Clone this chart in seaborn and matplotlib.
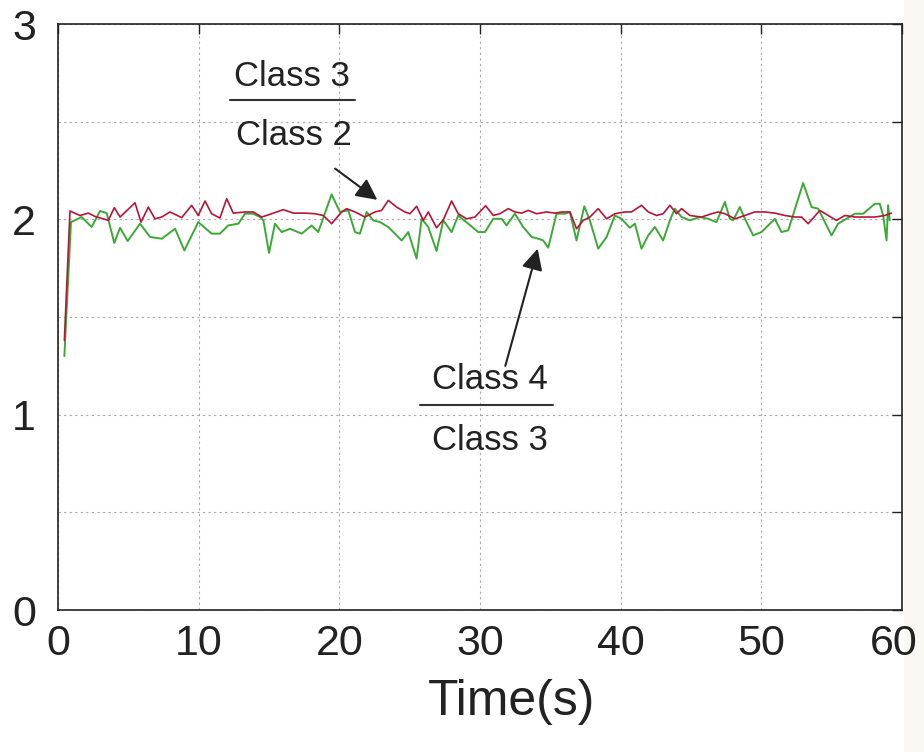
import matplotlib
matplotlib.use("Agg")
import matplotlib.pyplot as plt
import matplotlib.patches as mpatches
import matplotlib.transforms as mtransforms
import seaborn as sns
import pandas as pd

# Class 3 / Class 2 ratio over time
t_32 = [0.45, 0.85, 1.56, 2.16, 2.63, 3.58, 4.00, 4.41, 5.47, 5.90, 6.42, 6.89,
        7.37, 7.96, 8.79, 9.50, 9.97, 10.45, 10.92, 11.51, 11.99, 12.46, 13.29,
        13.88, 14.48, 15.19, 16.01, 16.73, 17.56, 18.27, 18.86, 19.45, 20.16,
        20.52, 21.11, 21.82, 22.53, 23.00, 23.48, 24.07, 24.66, 25.02, 25.49,
        25.97, 26.32, 26.91, 27.39, 27.98, 28.45, 29.05, 29.64, 30.40, 30.94,
        31.41, 32.01, 32.48, 32.95, 33.43, 34.02, 34.73, 35.32, 35.80, 36.39,
        36.86, 37.34, 37.81, 38.40, 39.00, 39.59, 40.30, 40.77, 41.48, 41.96,
        42.55, 43.02, 43.50, 43.97, 44.33, 44.92, 45.75, 46.46, 46.93, 47.41,
        48.12, 48.83, 49.54, 50.25, 50.96, 51.67, 52.38, 52.86, 53.33, 54.16,
        54.75, 55.34, 55.94, 56.65, 57.36, 58.07, 58.78, 59.25]
r_32 = [1.38, 2.043, 2.020, 2.032, 2.015, 1.995, 2.060, 2.012, 2.085, 1.986,
        2.063, 2.003, 2.012, 2.038, 2.009, 2.072, 2.020, 2.094, 2.029, 2.007,
        2.106, 2.032, 2.038, 2.038, 2.012, 2.029, 2.050, 2.032, 2.032, 2.029,
        2.020, 1.978, 2.038, 2.055, 2.038, 2.012, 2.038, 2.046, 2.097, 2.063,
        2.038, 2.029, 2.067, 1.995, 2.038, 1.957, 1.998, 2.094, 2.029, 2.003,
        2.012, 2.070, 2.020, 2.029, 2.055, 2.038, 2.032, 2.046, 2.029, 2.038,
        2.032, 2.038, 2.038, 1.952, 1.995, 2.012, 2.055, 2.003, 2.029, 2.038,
        2.038, 2.072, 2.038, 2.020, 2.029, 2.072, 2.029, 2.055, 2.020, 2.012,
        2.029, 2.038, 2.029, 2.003, 2.020, 2.038, 2.038, 2.032, 2.020, 2.012,
        2.012, 1.978, 2.046, 2.020, 1.995, 2.020, 2.012, 2.012, 2.012, 2.020,
        2.032]

# Class 4 / Class 3 ratio over time
t_43 = [0.45, 0.92, 1.68, 2.39, 2.99, 3.46, 4.00, 4.41, 4.95, 5.83, 6.54, 7.37,
        8.32, 8.98, 9.97, 10.92, 11.51, 12.10, 12.82, 13.29, 13.88, 14.36,
        14.60, 15.00, 15.42, 15.90, 16.49, 17.32, 18.03, 18.50, 19.45, 20.04,
        20.64, 21.11, 21.46, 21.94, 22.41, 22.89, 23.48, 23.95, 24.43, 24.90,
        25.49, 25.85, 26.32, 26.91, 27.39, 27.98, 28.45, 29.16, 29.87, 30.35,
        30.94, 31.53, 31.89, 32.48, 33.07, 33.67, 34.14, 34.49, 34.85, 35.44,
        36.03, 36.39, 36.86, 37.41, 37.81, 38.40, 39.00, 39.59, 40.06, 40.65,
        41.01, 41.48, 41.96, 42.43, 43.02, 43.50, 43.85, 44.33, 44.92, 45.63,
        46.22, 46.81, 47.41, 47.76, 48.00, 48.47, 48.83, 49.42, 50.01, 50.96,
        51.43, 51.91, 52.97, 53.57, 54.04, 54.40, 54.99, 55.46, 56.05, 56.65,
        57.24, 58.07, 58.42, 58.66, 58.90, 59.01, 59.13]
r_43 = [1.30, 1.986, 2.012, 1.961, 2.043, 2.032, 1.879, 1.957, 1.889, 1.978,
        1.910, 1.901, 1.952, 1.841, 1.986, 1.927, 1.927, 1.969, 1.978, 2.029,
        2.029, 2.012, 1.995, 1.828, 1.978, 1.935, 1.952, 1.927, 1.969, 1.935,
        2.128, 2.038, 2.046, 1.935, 1.927, 2.038, 1.995, 1.986, 1.961, 1.927,
        1.892, 1.935, 1.799, 2.003, 1.961, 1.838, 1.995, 1.935, 2.020, 1.978,
        1.935, 1.935, 2.003, 2.003, 1.969, 2.029, 1.961, 1.910, 1.901, 1.892,
        1.855, 2.029, 2.029, 2.038, 1.892, 2.067, 1.995, 1.850, 1.910, 2.020,
        2.003, 1.957, 1.978, 1.850, 1.918, 1.961, 1.892, 1.995, 2.055, 2.012,
        1.995, 2.012, 2.003, 1.986, 2.089, 2.003, 1.995, 2.063, 2.003, 1.918,
        1.935, 2.003, 1.935, 1.944, 2.186, 2.063, 2.055, 2.003, 1.918, 1.978,
        2.003, 2.029, 2.029, 2.080, 2.080, 2.020, 1.892, 2.072, 1.995]

x_ticks = [0, 10, 20, 30, 40, 50, 60]
y_grid = [0, 0.5, 1, 1.5, 2, 2.5, 3]
y_labels = {0: "0", 1: "1", 2: "2", 3: "3"}

sns.set_theme(style="white")
plt.rcParams["font.family"] = ["Liberation Sans", "DejaVu Sans"]

fig = plt.figure(figsize=(9.24, 7.52), dpi=100, facecolor="white")
# faint paper tone along the right edge of the page, kept behind everything
fig.patches.append(mpatches.Rectangle((0.978, 0), 0.022, 1, transform=fig.transFigure,
                                      facecolor="#faf8f3", edgecolor="none", zorder=-5))
ax = fig.add_axes([0.0628, 0.1888, 0.9134, 0.7792])
ax.set_zorder(2)

df32 = pd.DataFrame({"t": t_32, "r": r_32})
df43 = pd.DataFrame({"t": t_43, "r": r_43})
sns.lineplot(data=df43, x="t", y="r", ax=ax, color="#3aaa35", linewidth=1.4,
             estimator=None, sort=False)
sns.lineplot(data=df32, x="t", y="r", ax=ax, color="#b81438", linewidth=1.2,
             estimator=None, sort=False)

ax.set_xlim(0, 60)
ax.set_ylim(0, 3)
ax.set_xticks(x_ticks)
ax.set_yticks(y_grid)
ax.set_yticklabels([y_labels.get(v, "") for v in y_grid])
ax.set_xticklabels([str(v) for v in x_ticks])
ax.grid(True, linestyle=(0, (2, 3)), color="#a8a8a8", linewidth=0.8)
ax.tick_params(direction="in", length=7, width=1.0, top=True, right=True,
               labelsize=31, colors="#222222")
ax.tick_params(axis="x", pad=10)
ax.tick_params(axis="y", pad=16)
for s in ax.spines.values():
    s.set_color("#222222")
    s.set_linewidth(1.2)

# nudge the last x tick label inward so it stays on the page
last_lbl = ax.get_xticklabels()[-1]
last_lbl.set_transform(last_lbl.get_transform()
                       + mtransforms.ScaledTranslation(-8 / 100, 0, fig.dpi_scale_trans))

ax.set_xlabel("Time(s)", fontsize=36, color="#222222")
ax.xaxis.set_label_coords(0.537, -0.118)
ax.set_ylabel("")

txt = dict(fontsize=25, color="#222222", ha="center", va="center")
ax.text(16.6, 2.73, "Class 3", **txt)
ax.plot([12.2, 21.1], [2.61, 2.61], color="#333333", linewidth=1.5)
ax.text(16.8, 2.43, "Class 2", **txt)
ax.annotate("", xy=(22.7, 2.10), xytext=(19.7, 2.26),
            arrowprops=dict(arrowstyle="-|>", color="#222222", lw=1.5,
                            mutation_scale=32, shrinkA=0, shrinkB=0))

ax.text(30.7, 1.18, "Class 4", **txt)
ax.plot([25.7, 35.2], [1.05, 1.05], color="#333333", linewidth=1.5)
ax.text(30.7, 0.87, "Class 3", **txt)
ax.annotate("", xy=(34.1, 1.85), xytext=(31.8, 1.25),
            arrowprops=dict(arrowstyle="-|>", color="#222222", lw=1.5,
                            mutation_scale=32, shrinkA=0, shrinkB=0))

fig.savefig("out.png", dpi=100, facecolor="white")
